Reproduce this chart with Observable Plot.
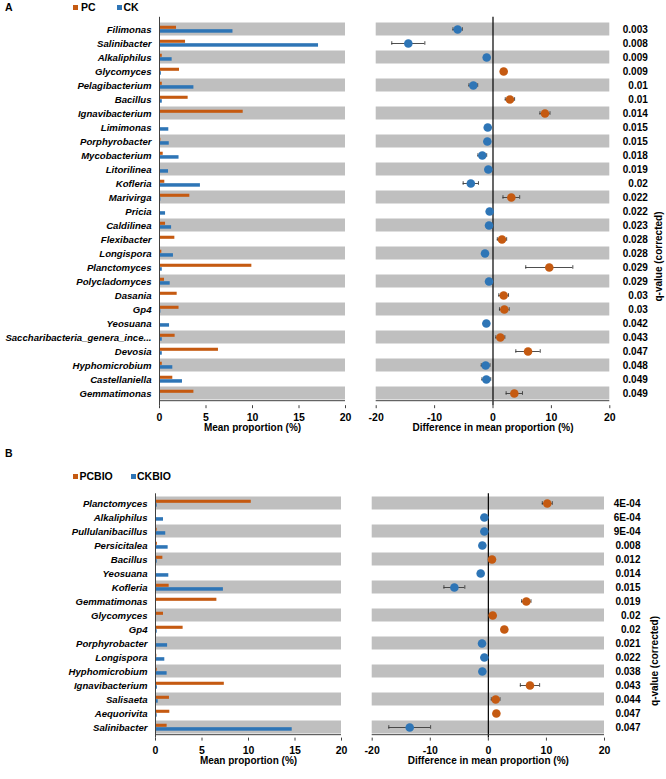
<!DOCTYPE html>
<html><head><meta charset="utf-8">
<script src="https://cdn.jsdelivr.net/npm/d3@7"></script>
<script src="https://cdn.jsdelivr.net/npm/@observablehq/plot@0.6"></script>
<style>
body{margin:0;background:#fff;font-family:"Liberation Sans",Arial,sans-serif;}
#root{position:relative;width:666px;height:779px;overflow:hidden;background:#fff;}
.abs{position:absolute;}
.lab{font-weight:bold;font-size:10.5px;color:#000;line-height:12px;white-space:nowrap;}
.sq{position:absolute;width:5px;height:5px;}
g[aria-label="y-axis tick label"] text{font-style:italic;}
</style></head>
<body><div id="root"></div>
<script>
// ---------- Panel A data ----------
const genusA = ["Filimonas","Salinibacter","Alkaliphilus","Glycomyces","Pelagibacterium","Bacillus","Ignavibacterium","Limimonas","Porphyrobacter","Mycobacterium","Litorilinea","Kofleria","Marivirga","Pricia","Caldilinea","Flexibacter","Longispora","Planctomyces","Polycladomyces","Dasania","Gp4","Yeosuana","Saccharibacteria_genera_ince...","Devosia","Hyphomicrobium","Castellaniella","Gemmatimonas"];
const pcA = [1.83,2.8,0.3,2.15,0.3,3.08,9.0,0.1,0.15,0.4,0.1,0.57,3.26,0.1,0.65,1.65,0.25,9.93,0.54,1.9,2.1,0.03,1.68,6.34,0.3,1.43,3.7];
const ckA = [7.9,17.1,1.36,0.2,3.7,0.3,0.1,1.0,1.05,2.1,0.97,4.4,0.15,0.65,1.3,0.1,1.5,0.3,1.15,0.1,0.15,1.08,0.3,0.3,1.43,2.47,0.1];
const diffA = [-6.05,-14.5,-1.08,1.83,-3.37,2.9,8.9,-0.9,-0.97,-1.83,-0.8,-3.8,3.14,-0.57,-0.68,1.54,-1.37,9.64,-0.68,1.83,1.94,-1.14,1.26,6.0,-1.26,-1.14,3.65];
const errA = [0.8,2.83,0.3,0.3,0.75,0.8,0.86,0.3,0.3,0.75,0.3,1.31,1.43,0.3,0.3,0.8,0.3,4.03,0.3,0.83,0.83,0.3,0.77,2.09,0.75,0.75,1.4];
const qA = ["0.003","0.008","0.009","0.009","0.01","0.01","0.014","0.015","0.015","0.018","0.019","0.02","0.022","0.022","0.023","0.028","0.028","0.029","0.029","0.03","0.03","0.042","0.043","0.047","0.048","0.049","0.049"];
const seriesA = ["PC","CK"];

// ---------- Panel B data ----------
const genusB = ["Planctomyces","Alkaliphilus","Pullulanibacillus","Persicitalea","Bacillus","Yeosuana","Kofleria","Gemmatimonas","Glycomyces","Gp4","Porphyrobacter","Longispora","Hyphomicrobium","Ignavibacterium","Salisaeta","Aequorivita","Salinibacter"];
const pcB = [10.3,0.1,0.18,0.2,0.79,0.04,1.47,6.6,0.86,2.97,0.04,0.14,0.18,7.4,1.5,1.54,1.25];
const ckB = [0.18,0.86,1.1,1.36,0.18,1.43,7.3,0.07,0.07,0.18,1.3,1.0,1.25,0.2,0.29,0.18,14.7];
const diffB = [10.15,-0.69,-0.69,-1.03,0.63,-1.32,-5.85,6.54,0.75,2.75,-1.09,-0.69,-1.03,7.17,1.26,1.38,-13.54];
const errB = [0.86,0.3,0.3,0.3,0.3,0.3,1.8,0.8,0.3,0.3,0.3,0.3,0.3,1.66,0.75,0.3,3.6];
const qB = ["4E-04","6E-04","9E-04","0.008","0.012","0.014","0.015","0.019","0.02","0.02","0.021","0.022","0.038","0.043","0.044","0.047","0.047"];
const seriesB = ["PCBIO","CKBIO"];

const barTicks = [0,5,10,15,20];
const diffTicks = [-20,-10,0,10,20];
const barTitle = "Mean proportion (%)";
const diffTitle = "Difference in mean proportion (%)";
const qTitle = "q-value (corrected)";

const ORANGE = "#C55A11", BLUE = "#2E75B6", GRAY = "#BFBFBF", AXIS = "#404040";
const FONT = "'Liberation Sans', Arial, sans-serif";
const root = document.getElementById("root");

function place(node, left, top) {
  const d = document.createElement("div");
  d.className = "abs"; d.style.left = left + "px"; d.style.top = top + "px";
  d.appendChild(node); root.appendChild(d);
}
function htmlText(txt, left, top) {
  const d = document.createElement("div");
  d.className = "abs lab"; d.style.left = left + "px"; d.style.top = top + "px";
  d.textContent = txt; root.appendChild(d);
}
function square(color, left, top) {
  const d = document.createElement("div");
  d.className = "sq"; d.style.left = left + "px"; d.style.top = top + "px"; d.style.background = color;
  root.appendChild(d);
}
const fmt = d => String(d);

function panel(cfg) {
  const {genus, pc, ck, diff, err, q, top, H, mt, mb, barML, barMR, diffML, diffMR, tickPad, titleDy, qdx, labdx} = cfg;
  const rows = genus.map((g, i) => ({g, i, pc: pc[i], ck: ck[i], d: diff[i], lo: diff[i] - err[i], hi: diff[i] + err[i], q: q[i]}));
  const even = rows.filter(r => r.i % 2 === 0);
  const bw = (H - mt - mb) / genus.length;
  const last = genus[genus.length - 1];
  const style = {fontFamily: FONT, fontSize: "10px", fontWeight: "bold", background: "transparent", overflow: "visible"};

  const bar = Plot.plot({
    width: 355, height: H, marginTop: mt, marginBottom: mb, marginLeft: barML, marginRight: barMR,
    style,
    x: {domain: [0, 20], label: null},
    y: {domain: genus, padding: 0, label: null},
    marks: [
      Plot.barX(even, {x1: 0, x2: 20, y: "g", fill: GRAY, insetTop: 0.5, insetBottom: 0.5}),
      Plot.barX(rows, {x: "pc", y: "g", fill: ORANGE, insetTop: 0.26 * bw, insetBottom: 0.5 * bw}),
      Plot.barX(rows, {x: "ck", y: "g", fill: BLUE, insetTop: 0.5 * bw, insetBottom: 0.23 * bw}),
      Plot.ruleX([0], {stroke: AXIS, strokeWidth: 1}),
      Plot.ruleY([last], {x1: 0, x2: 20, dy: bw / 2, stroke: AXIS}),
      Plot.axisX({ticks: barTicks, tickFormat: fmt, tickSize: 3, tickPadding: tickPad, stroke: AXIS, fontSize: 10.5, label: null}),
      Plot.axisY({tickSize: 0, tickPadding: 8, fontSize: 9.6, fontStyle: "italic", fontWeight: "bold", label: null}),
      Plot.text([barTitle], {frameAnchor: "bottom", dy: titleDy, fontWeight: "bold"})
    ]
  });
  place(bar, 0, top);

  const dp = Plot.plot({
    width: 311, height: H, marginTop: mt, marginBottom: mb, marginLeft: diffML, marginRight: diffMR,
    style,
    x: {domain: [-20, 20], label: null},
    y: {domain: genus, padding: 0, label: null, axis: null},
    marks: [
      Plot.barX(even, {x1: -20, x2: 20, y: "g", fill: GRAY, insetTop: 0.5, insetBottom: 0.5}),
      Plot.ruleX([0], {stroke: "#000", strokeWidth: 1.2}),
      Plot.ruleY([last], {x1: -20, x2: 20, dy: bw / 2, stroke: AXIS}),
      Plot.ruleY(rows, {y: "g", x1: "lo", x2: "hi", stroke: "#3a3a3a", strokeWidth: 0.9}),
      Plot.tickX(rows, {x: "lo", y: "g", stroke: "#3a3a3a", strokeWidth: 0.9, insetTop: bw / 2 - 2, insetBottom: bw / 2 - 2}),
      Plot.tickX(rows, {x: "hi", y: "g", stroke: "#3a3a3a", strokeWidth: 0.9, insetTop: bw / 2 - 2, insetBottom: bw / 2 - 2}),
      Plot.dot(rows, {x: "d", y: "g", r: 4.3, fill: d => d.d > 0 ? ORANGE : BLUE, stroke: "none"}),
      Plot.axisX({ticks: diffTicks, tickFormat: fmt, tickSize: 3, tickPadding: tickPad, stroke: AXIS, fontSize: 10.5, label: null}),
      Plot.text(rows, {y: "g", text: "q", frameAnchor: "right", textAnchor: "end", dx: qdx, fontWeight: "bold"}),
      Plot.text([qTitle], {frameAnchor: "right", rotate: -90, dx: labdx, fontWeight: "bold"}),
      Plot.text([diffTitle], {frameAnchor: "bottom", dy: titleDy, fontWeight: "bold"})
    ]
  });
  place(dp, 355, top);
}

panel({genus: genusA, pc: pcA, ck: ckA, diff: diffA, err: errA, q: qA,
  top: 0, H: 445, mt: 16.8, mb: 39.8, barML: 159, barMR: 10, diffML: 20.7, diffMR: 56.7,
  tickPad: 4.5, titleDy: 25, qdx: 38, labdx: 49});
panel({genus: genusB, pc: pcB, ck: ckB, diff: diffB, err: errB, q: qB,
  top: 460, H: 319, mt: 33.3, mb: 41.4, barML: 155, barMR: 14, diffML: 16.7, diffMR: 62,
  tickPad: 5.5, titleDy: 25.7, qdx: 36, labdx: 50});

// panel letters and legends (HTML)
htmlText("A", 5, 1);
square(ORANGE, 73, 4.5); htmlText(seriesA[0], 81, 1);
square(BLUE, 117, 4.5); htmlText(seriesA[1], 123.5, 1);
htmlText("B", 5, 447);
square(ORANGE, 72.7, 473.5); htmlText(seriesB[0], 79.5, 470);
square(BLUE, 131, 473.5); htmlText(seriesB[1], 137, 470);
</script></body></html>
